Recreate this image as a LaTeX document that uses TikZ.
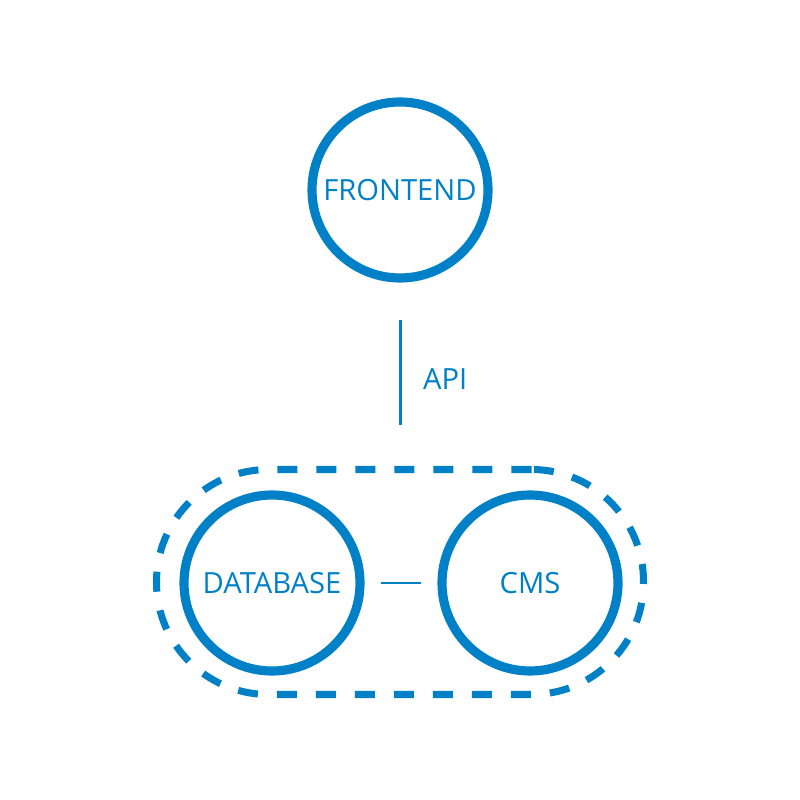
\documentclass[tikz,border=0pt]{standalone}
\usepackage{fontspec}
\setmainfont{Open Sans}
\usetikzlibrary{positioning}
\definecolor{apiblue}{HTML}{0080C6}
\begin{document}
\begin{tikzpicture}[font=\fontsize{8.3}{10}\selectfont,apiblue,
  part/.style={circle,draw=apiblue,line width=2.6pt,minimum size=1.76cm,inner sep=0pt,text=apiblue},
  stackbox/.style={draw=apiblue,line width=2pt,dash pattern=on 5.7pt off 5.4pt,rounded corners=1.12cm,minimum width=4.87cm,minimum height=2.25cm}]
\useasboundingbox (0,0) rectangle (8,8);
\node[part] (frontend) at (4,6.1) {FRONTEND};
\node[stackbox] (backend) at (4,2.18) {};
\node[part] (database) at (2.72,2.17) {DATABASE};
\node[part] (cms) at (5.30,2.17) {CMS};
\draw[line width=0.85pt,shorten <=0.37cm,shorten >=0.41cm] (frontend) -- (backend) node[midway,right=0.1cm,yshift=-0.05cm]{API};
\draw[line width=0.75pt,shorten <=0.165cm,shorten >=0.165cm] (database) -- (cms);
\end{tikzpicture}
\end{document}
